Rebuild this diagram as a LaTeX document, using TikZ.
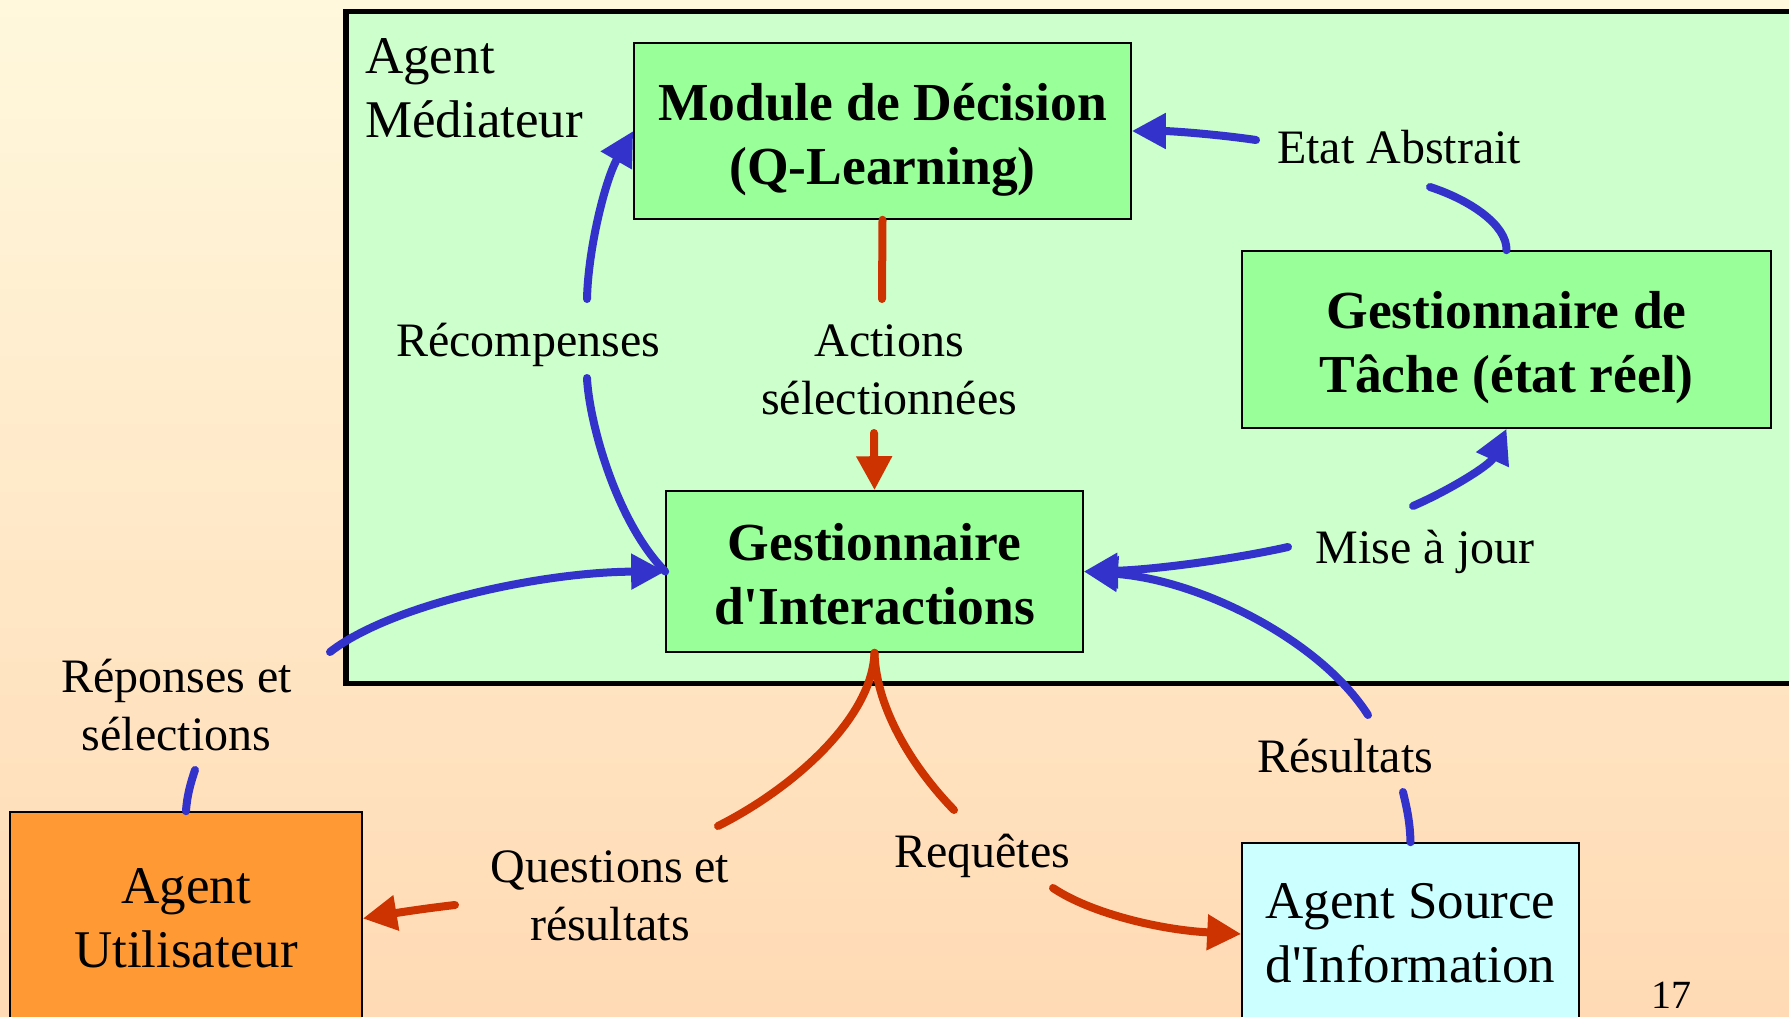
\documentclass[tikz,border=0pt]{standalone}
\usepackage{fontspec}
\setmainfont{Liberation Serif}
\newfontfamily\rawserif{Liberation Serif}
\newcommand\straightq{{\rawserif'}}
\usetikzlibrary{arrows.meta}

\definecolor{bgtop}{RGB}{255,248,221}
\definecolor{bgbot}{RGB}{255,218,180}
\definecolor{zonefill}{RGB}{204,255,204}
\definecolor{modfill}{RGB}{153,255,153}
\definecolor{userfill}{RGB}{255,153,51}
\definecolor{srcfill}{RGB}{204,255,255}
\definecolor{flowblue}{RGB}{51,51,204}
\definecolor{flowred}{RGB}{204,51,0}

\begin{document}
\begin{tikzpicture}[x=1pt,y=-1pt,
  modbox/.style={draw=black, line width=1.6pt, fill=modfill, inner sep=0pt,
    font=\fontsize{53.5}{64}\selectfont\bfseries, text height=45pt, text depth=67pt},
  agentbox/.style={draw=black, line width=1.6pt, inner sep=0pt,
    font=\fontsize{53}{64}\selectfont, text height=45pt, text depth=76pt},
  lbl/.style={inner sep=0pt, anchor=base, font=\fontsize{48}{58}\selectfont},
  flow/.style={line width=8pt, line cap=round},
  arrowend/.style={-{Triangle[length=34pt,width=34pt]}},
  blueflow/.style={flow, draw=flowblue},
  redflow/.style={flow, draw=flowred},
]
% canvas and background
\clip (0,0) rectangle (1789,1017);
\shade[top color=bgtop, bottom color=bgbot] (0,0) rectangle (1789,1017);

% mediator agent zone
\draw[line width=5.5pt, fill=zonefill] (346,11.5) rectangle (1830,683.5);
\node[lbl, anchor=base west, font=\fontsize{53}{64}\selectfont] (med) at (365,73)
  {\begin{tabular}[t]{@{}l@{}}Agent\\Médiateur\end{tabular}};

% components
\node[modbox, minimum width=497pt, minimum height=176pt] (dec) at (882.5,131)
  {\begin{tabular}[t]{@{}c@{}}Module de Décision\\(Q-Learning)\end{tabular}};
\node[modbox, minimum width=529pt, minimum height=177pt] (task) at (1506.5,339.5)
  {\begin{tabular}[t]{@{}c@{}}Gestionnaire de\\Tâche (état réel)\end{tabular}};
\node[modbox, minimum width=417pt, minimum height=161pt] (inter) at (874.5,571.5)
  {\begin{tabular}[t]{@{}c@{}}Gestionnaire\\d\straightq Interactions\end{tabular}};

% external agents
\node[agentbox, fill=userfill, minimum width=352pt, minimum height=213pt] (user) at (186,918.5)
  {\begin{tabular}[t]{@{}c@{}}Agent\\Utilisateur\end{tabular}};
\node[agentbox, fill=srcfill, minimum width=337pt, minimum height=182pt, text depth=77pt] (src) at (1410.5,934)
  {\begin{tabular}[t]{@{}c@{}}Agent Source\\d\straightq Information\end{tabular}};

% labels
\node[lbl] (rec) at (528,356) {Récompenses};
\node[lbl] (act) at (889,356) {\begin{tabular}[t]{@{}c@{}}Actions\\sélectionnées\end{tabular}};
\node[lbl] (eta) at (1399,163) {Etat Abstrait};
\node[lbl] (maj) at (1425,563) {Mise à jour};
\node[lbl] (res) at (1345,772) {Résultats};
\node[lbl] (req) at (982,867) {Requêtes};
\node[lbl] (rep) at (176.5,692) {\begin{tabular}[t]{@{}c@{}}Réponses et\\sélections\end{tabular}};
\node[lbl] (qr) at (610,882) {\begin{tabular}[t]{@{}c@{}}Questions et\\résultats\end{tabular}};
\node[lbl, font=\fontsize{40}{48}\selectfont] (pnum) at (1671,1008) {17};

% gap ends of the connectors around their labels
\coordinate (recLo) at (587,378);
\coordinate (recHi) at (587,299);
\coordinate (actHi) at (882,299);
\coordinate (actLo) at (874,433);
\coordinate (etaLo) at (1430,187);
\coordinate (etaHi) at (1256,140);
\coordinate (majL) at (1288,547);
\coordinate (majR) at (1413,506);
\coordinate (resLo) at (1403,792);
\coordinate (resHi) at (1368,715);
\coordinate (repLo) at (195,770);
\coordinate (repHi) at (330,652);
\coordinate (qrHi) at (718,826);
\coordinate (qrLo) at (455,905);
\coordinate (reqHi) at (954,810);
\coordinate (reqLo) at (1053,888);

% rewards
\draw[blueflow] (inter.west) .. controls (615,520) and (589,420) .. (recLo);
\draw[blueflow, arrowend] (recHi) .. controls (588,250) and (605,180) .. (dec.west);
% selected actions
\draw[redflow] (dec.south) -- (actHi);
\draw[redflow, arrowend] (actLo) -- (inter.north);
% abstract state
\draw[blueflow] (task.north) .. controls (1507,225) and (1470,200) .. (etaLo);
\draw[blueflow, arrowend] (etaHi) .. controls (1215,134) and (1170,131) .. (dec.east);
% update
\draw[blueflow, arrowend] (majL) .. controls (1230,560) and (1150,570) .. (inter.east);
\draw[blueflow, arrowend] (majR) .. controls (1450,490) and (1490,465) .. (task.south);
% results from the source
\draw[blueflow] (src.north) .. controls (1410,820) and (1406,805) .. (resLo);
\draw[blueflow, arrowend] (resHi) .. controls (1320,640) and (1200,580) .. (inter.east);
% user answers
\draw[blueflow] (user.north) .. controls (187,795) and (191,782) .. (repLo);
\draw[blueflow, arrowend] (repHi) .. controls (390,605) and (540,572) .. (inter.west);
% questions to the user
\draw[redflow] (inter.south) .. controls (872,720) and (790,790) .. (qrHi);
\draw[redflow, arrowend] (qrLo) .. controls (420,909) and (390,914) .. (user.east);
% queries to the source
\draw[redflow] (inter.south) .. controls (876,710) and (915,770) .. (reqHi);
\draw[redflow, arrowend] (reqLo) .. controls (1090,913) and (1160,930) .. (src.west);
\end{tikzpicture}
\end{document}
